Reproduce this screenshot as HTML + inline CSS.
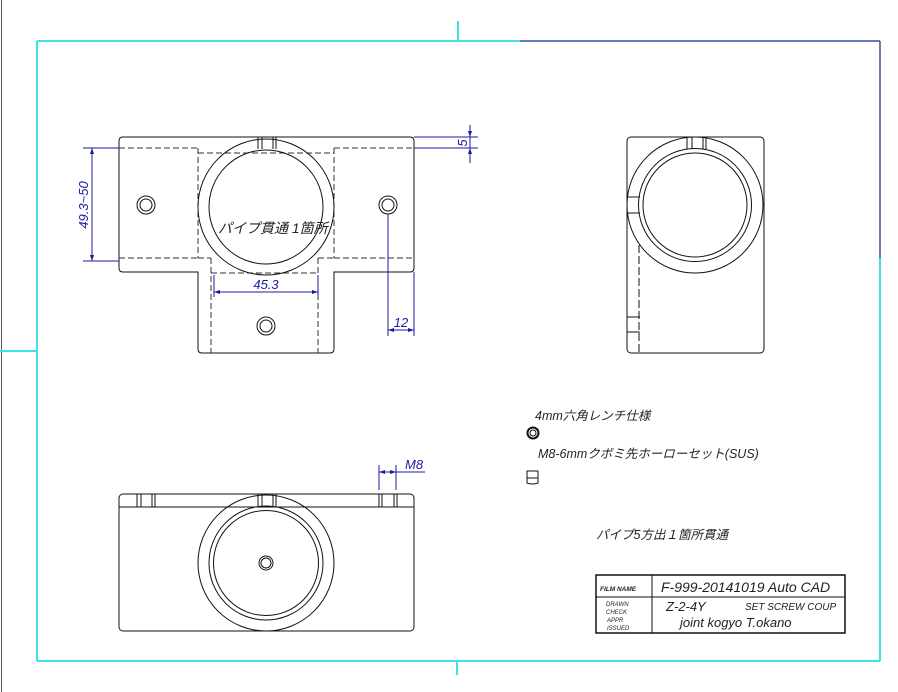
<!DOCTYPE html>
<html><head><meta charset="utf-8"><style>
html,body{margin:0;padding:0;background:#fff;}
svg{display:block;}
text{font-family:"Liberation Sans","Noto Sans CJK JP",sans-serif;font-style:italic;}
</style></head><body>
<svg width="898" height="692" viewBox="0 0 898 692" xmlns="http://www.w3.org/2000/svg">
<rect width="898" height="692" fill="#fff"/>
<!-- sheet edge -->
<line x1="1.5" y1="0" x2="1.5" y2="692" stroke="#555" stroke-width="1"/>
<!-- frame -->
<g stroke="#3fe0e6" stroke-width="2" fill="none">
<line x1="37" y1="41" x2="520" y2="41"/>
<line x1="37" y1="41" x2="37" y2="661"/>
<line x1="37" y1="661" x2="880" y2="661"/>
<line x1="880" y1="258" x2="880" y2="661"/>
<line x1="458" y1="21" x2="458" y2="41"/>
<line x1="457" y1="661" x2="457" y2="675"/>
<line x1="0" y1="351" x2="37" y2="351"/>
</g>
<line x1="520" y1="41" x2="880" y2="41" stroke="#3a4aa0" stroke-width="1.5"/>
<line x1="880" y1="41" x2="880" y2="258" stroke="#6a3a8a" stroke-width="1.5"/>

<g stroke="#111" stroke-width="1" fill="none">
<!-- TOP VIEW -->
<path d="M123 137 H410 Q414 137 414 141 V268 Q414 272 410 272 H334 V349 Q334 353 330 353 H202 Q198 353 198 349 V272 H123 Q119 272 119 268 V141 Q119 137 123 137 Z"/>
<g stroke-dasharray="6,3" stroke="#333">
<line x1="119" y1="148" x2="198" y2="148"/>
<line x1="334" y1="148" x2="414" y2="148"/>
<line x1="119" y1="258" x2="198" y2="258"/>
<line x1="334" y1="258" x2="414" y2="258"/>
<line x1="198" y1="153" x2="334" y2="153"/>
<line x1="198" y1="148" x2="198" y2="258"/>
<line x1="334" y1="148" x2="334" y2="258"/>
<line x1="198" y1="258" x2="211" y2="258"/>
<line x1="318" y1="258" x2="334" y2="258"/>
<line x1="211" y1="258" x2="211" y2="353"/>
<line x1="318" y1="258" x2="318" y2="353"/>
<line x1="211" y1="273" x2="318" y2="273"/>
</g>
<circle cx="266" cy="207" r="68"/>
<circle cx="266" cy="207" r="57"/>
<line x1="258" y1="137" x2="258" y2="149"/><line x1="262" y1="137" x2="262" y2="149"/>
<line x1="273" y1="137" x2="273" y2="149"/><line x1="276" y1="137" x2="276" y2="149"/>
<circle cx="146" cy="205" r="9"/><circle cx="146" cy="205" r="6"/>
<circle cx="388" cy="205" r="9"/><circle cx="388" cy="205" r="6"/>
<circle cx="266" cy="326" r="9"/><circle cx="266" cy="326" r="6"/>

<!-- RIGHT VIEW -->
<rect x="627" y="137" width="137" height="216" rx="4"/>
<circle cx="695" cy="205" r="68"/>
<circle cx="695" cy="205" r="56.5"/>
<circle cx="695" cy="205" r="52"/>
<line x1="687" y1="137" x2="687" y2="149"/><line x1="692" y1="137" x2="692" y2="149"/>
<line x1="703" y1="137" x2="703" y2="149"/><line x1="706" y1="137" x2="706" y2="149"/>
<line x1="627" y1="197" x2="640" y2="197"/><line x1="627" y1="213" x2="640" y2="213"/>
<line x1="627" y1="317" x2="640" y2="317"/><line x1="627" y1="332" x2="640" y2="332"/>
<line x1="639" y1="245" x2="639" y2="353" stroke-dasharray="8,3"/>

<!-- BOTTOM VIEW -->
<rect x="119" y="494" width="295" height="137" rx="4"/>
<line x1="119" y1="507" x2="414" y2="507"/>
<circle cx="266" cy="563" r="68"/>
<circle cx="266" cy="563" r="57"/>
<circle cx="266" cy="563" r="52.5"/>
<circle cx="266" cy="563" r="7"/><circle cx="266" cy="563" r="5"/>
<line x1="137" y1="494" x2="137" y2="507"/><line x1="141" y1="494" x2="141" y2="507"/>
<line x1="152" y1="494" x2="152" y2="507"/><line x1="155" y1="494" x2="155" y2="507"/>
<line x1="258" y1="494" x2="258" y2="507"/><line x1="262" y1="494" x2="262" y2="507"/>
<line x1="273" y1="494" x2="273" y2="507"/><line x1="276" y1="494" x2="276" y2="507"/>
<line x1="379" y1="494" x2="379" y2="507"/><line x1="382" y1="494" x2="382" y2="507"/>
<line x1="394" y1="494" x2="394" y2="507"/><line x1="397" y1="494" x2="397" y2="507"/>

<!-- icons -->
<circle cx="533" cy="433" r="5.5" stroke-width="2"/>
<circle cx="533" cy="433" r="3"/>
<path d="M527 471 H538 V483 Q532 485 527 483 Z M527 478 H538"/>

<!-- title block -->
<rect x="596" y="575" width="249" height="58" stroke-width="1.5"/>
<line x1="596" y1="597" x2="845" y2="597"/>
<line x1="652" y1="575" x2="652" y2="633"/>
</g>

<!-- dimensions (blue) -->
<g stroke="#1a1aa0" stroke-width="1" fill="none">
<line x1="83" y1="148" x2="119" y2="148"/><line x1="83" y1="261" x2="119" y2="261"/>
<line x1="92" y1="148" x2="92" y2="261"/>
<line x1="214" y1="275" x2="214" y2="297"/><line x1="318" y1="275" x2="318" y2="297"/>
<line x1="214" y1="292" x2="318" y2="292"/>
<line x1="388" y1="214" x2="388" y2="336"/><line x1="414" y1="272" x2="414" y2="336"/>
<line x1="388" y1="330" x2="414" y2="330"/>
<line x1="414" y1="137" x2="478" y2="137"/><line x1="414" y1="148" x2="478" y2="148"/>
<line x1="470" y1="125" x2="470" y2="163"/>
<line x1="379" y1="465" x2="379" y2="490"/><line x1="396" y1="465" x2="396" y2="490"/>
<line x1="379" y1="472" x2="425" y2="472"/>
</g>
<g fill="#1a1aa0">
<path d="M92 148 l-2 6 h4z M92 261 l-2 -6 h4z"/>
<path d="M214 292 l6 -2 v4z M318 292 l-6 -2 v4z"/>
<path d="M388 330 l6 -2 v4z M414 330 l-6 -2 v4z"/>
<path d="M470 137 l-2 -6 h4z M470 148 l-2 6 h4z"/>
<path d="M379 472 l6 -2 v4z M396 472 l-6 -2 v4z"/>
</g>
<g fill="#1a1aa0" font-size="13">
<text transform="translate(88,205) rotate(-90)" text-anchor="middle">49.3~50</text>
<text x="266" y="289" text-anchor="middle">45.3</text>
<text x="401" y="327" text-anchor="middle">12</text>
<text transform="translate(467,143) rotate(-90)" text-anchor="middle">5</text>
<text x="405" y="469">M8</text>
</g>

<g fill="#222" font-size="13">
<text x="218" y="233" font-size="14">パイプ貫通 1箇所</text>
<text x="535" y="420" font-size="12.5">4mm六角レンチ仕様</text>
<text x="538" y="458" font-size="12.5">M8-6mmクボミ先ホーローセット(SUS)</text>
<text x="596" y="539" font-size="12.5">パイプ5方出１箇所貫通</text>
<text x="600" y="591" font-size="6.5" font-weight="bold">FILM NAME</text>
<text x="606" y="606" font-size="6">DRAWN</text>
<text x="606" y="614" font-size="6">CHECK</text>
<text x="607" y="622" font-size="6">APPR</text>
<text x="607" y="630" font-size="6">ISSUED</text>
<text x="661" y="592" font-size="14">F-999-20141019 Auto CAD</text>
<text x="666" y="611" font-size="13">Z-2-4Y</text>
<text x="745" y="610" font-size="10">SET SCREW COUP</text>
<text x="680" y="627" font-size="13">joint kogyo T.okano</text>
</g>
</svg>
</body></html>
